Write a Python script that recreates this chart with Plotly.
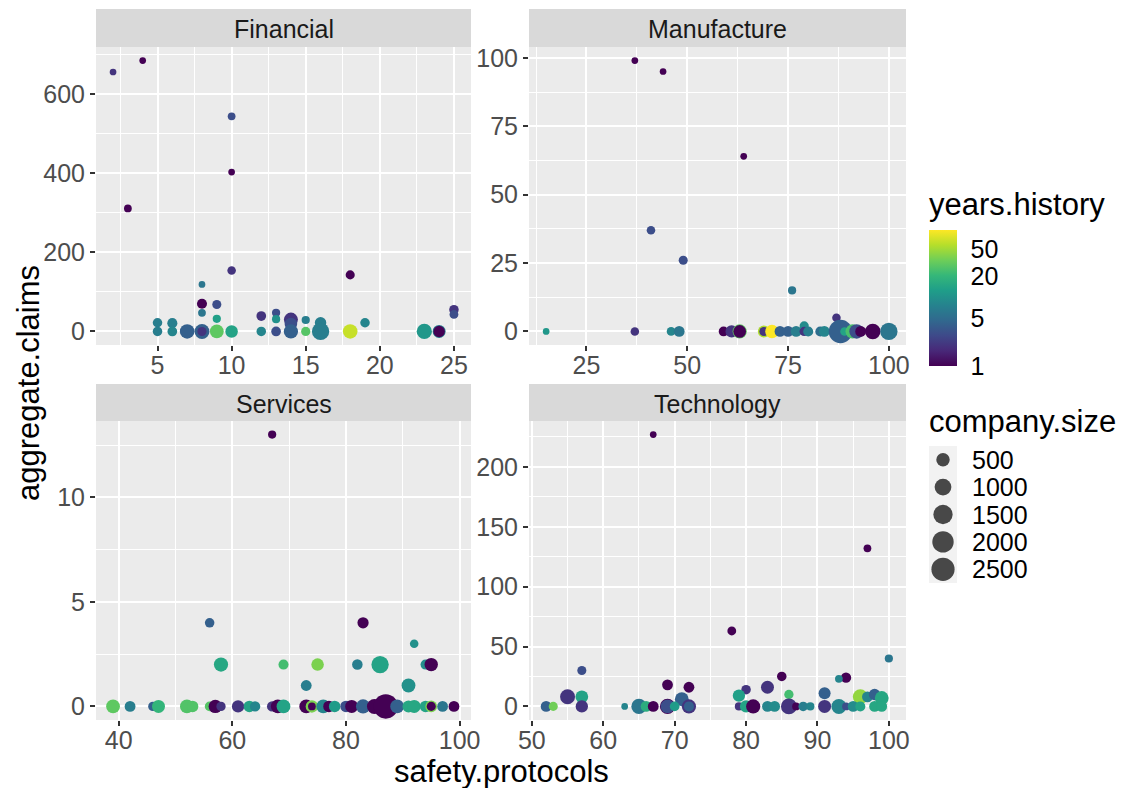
import numpy as np
import plotly.graph_objects as go

W, H = 1138, 788
FONT = "Liberation Sans, Arial, Helvetica, sans-serif"

# ---------------- data ----------------
facet_names = ["Financial", "Manufacture", "Services", "Technology"]

fin_safety = [2, 4, 3, 10, 10, 10, 8, 18, 8, 9, 8, 9, 12, 13, 13, 14, 14, 15, 16, 19, 25, 25, 5, 6,
              5, 6, 7, 8, 8, 9, 10, 12, 13, 14, 15, 16, 18, 23, 24, 24]
fin_claims = [656, 685, 311, 544, 403, 154, 119, 143, 70, 68, 47, 32, 39, 47, 31, 30, 19, 29, 22, 22, 55, 43, 22, 21,
              0, 0, 0, 0, 0, 0, 0, 0, 0, 0, 0, 0, 0, 0, 0, 0]
fin_years = [2, 1, 1, 3, 1, 2, 6, 1, 1, 3, 6, 13, 2, 3, 10, 2, 3, 7, 7, 8, 2, 3, 7, 7,
             7, 8, 4, 4, 2, 30, 14, 8, 3, 4, 28, 7, 65, 11, 7, 1]
fin_size = [100, 100, 110, 110, 100, 130, 100, 150, 200, 150, 110, 120, 180, 120, 120, 570, 400, 120, 300, 170, 170, 140, 170, 200,
            170, 180, 650, 700, 150, 550, 400, 170, 180, 600, 160, 1100, 650, 750, 450, 300]

man_safety = [37, 44, 64, 41, 49, 76, 87, 79,
              15, 37, 46, 48, 59, 61, 63, 63, 69, 69, 71, 73, 75, 77, 79, 80, 83, 84, 88, 89, 91, 92, 93, 96, 100]
man_claims = [99, 95, 64, 37, 26, 15, 5, 2,
              0, 0, 0, 0, 0, 0, 0, 0, 0, 0, 0, 0, 0, 0, 0, 0, 0, 0, 0, 0, 0, 0, 0, 0, 0]
man_years = [1, 1, 1, 3, 3, 6, 2, 9,
             11, 2, 8, 6, 1, 2, 30, 1, 55, 2, 95, 4, 4, 7, 2, 7, 5, 8, 4, 14, 25, 3, 1, 1, 6]
man_size = [100, 100, 100, 130, 150, 120, 130, 160,
            100, 130, 140, 250, 180, 380, 600, 420, 350, 150, 500, 250, 250, 250, 160, 200, 200, 250, 2600, 130, 600, 650, 250, 800, 1100]

ser_safety = [67, 56, 83, 92, 58, 69, 75, 82, 86, 94, 95, 73, 91,
              39, 42, 46, 47, 52, 53, 56, 57, 58, 61, 63, 64, 67, 68, 69, 73, 74, 74, 76, 77, 78, 80, 81, 83, 85, 87, 89, 91, 92, 94, 95, 95, 97, 99]
ser_claims = [13, 4, 4, 3, 2, 2, 2, 2, 2, 2, 2, 1, 1,
              0, 0, 0, 0, 0, 0, 0, 0, 0, 0, 0, 0, 0, 0, 0, 0, 0, 0, 0, 0, 0, 0, 0, 0, 0, 0, 0, 0, 0, 0, 0, 0, 0, 0]
ser_years = [1, 4, 1, 10, 15, 24, 38, 7, 14, 9, 1, 7, 10,
             30, 7, 4, 20, 27, 27, 28, 1, 2, 2, 14, 8, 2, 1, 14, 1, 38, 1, 8, 1, 12, 3, 1, 4, 1, 1, 4, 15, 15, 14, 38, 1, 6, 1]
ser_size = [120, 170, 280, 130, 600, 200, 400, 230, 1100, 200, 500, 250, 550,
            550, 250, 160, 450, 550, 300, 180, 500, 160, 380, 300, 220, 220, 550, 550, 550, 400, 110, 550, 300, 300, 300, 450, 600, 700, 2900, 550, 350, 450, 300, 330, 150, 250, 250]

tec_safety = [67, 97, 78, 100, 57, 69, 72, 85, 94, 93, 83, 80, 79, 86, 91, 55, 57, 71, 96, 97, 98, 99,
              52, 53, 57, 63, 65, 66, 67, 69, 69, 70, 72, 72, 79, 80, 81, 83, 84, 86, 87, 88, 89, 91, 93, 94, 95, 96, 98, 99]
tec_claims = [227, 132, 63, 40, 30, 18, 16, 25, 24, 23, 16, 14, 9, 10, 11, 8, 8, 6, 8, 8, 10, 7,
              0, 0, 0, 0, 0, 0, 0, 0, 0, 0, 0, 0, 0, 0, 0, 0, 0, 0, 0, 0, 0, 0, 0, 0, 0, 0, 0, 0]
tec_years = [1, 1, 1, 6, 3, 1, 1, 1, 1, 8, 2, 2, 13, 24, 4, 2, 14, 4, 45, 8, 4, 15,
             4, 35, 2, 8, 6, 17, 1, 1, 3, 12, 2, 4, 2, 14, 1, 8, 9, 2, 1, 7, 8, 2, 8, 3, 9, 14, 15, 15]
tec_size = [100, 110, 140, 120, 150, 250, 250, 170, 220, 110, 450, 170, 380, 160, 350, 700, 420, 550, 700, 250, 300, 550,
            250, 150, 380, 100, 750, 250, 250, 750, 550, 180, 600, 200, 120, 380, 600, 250, 250, 850, 110, 170, 120, 450, 700, 110, 250, 200, 250, 250]

x_dticks = [5, 25, 20, 10]
y_dticks = [200, 25, 5, 50]

color_breaks = [1, 5, 20, 50]
size_breaks = [500, 1000, 1500, 2000, 2500]

safety = [fin_safety, man_safety, ser_safety, tec_safety]
claims = [fin_claims, man_claims, ser_claims, tec_claims]
years = [fin_years, man_years, ser_years, tec_years]
sizes = [fin_size, man_size, ser_size, tec_size]

# ---------------- scales ----------------
all_sizes = np.concatenate([np.asarray(s, float) for s in sizes])
smin, smax = all_sizes.min(), all_sizes.max()


def size_px(v):
    v = np.asarray(v, float)
    mm = 1 + 5 * np.sqrt(np.clip((v - smin) / (smax - smin), 0, 1))
    return 3.14 + 3.56 * mm


all_years = np.concatenate([np.asarray(y, float) for y in years])
cmin_l = np.log10(all_years.min())
cmax_l = np.log10(all_years.max())


def expand(vals):
    lo, hi = min(vals), max(vals)
    d = (hi - lo) * 0.05
    return [lo - d, hi + d]


# panel geometry (pixels)
cols = [(96, 471), (529, 906)]
rows = [((9, 47), (47, 345)), ((384, 421), (421, 720))]


def px_x(p):
    return p / W


def px_y(p):
    return 1 - p / H


fig = go.Figure()
layout = dict(
    width=W, height=H,
    margin=dict(l=0, r=0, t=0, b=0),
    paper_bgcolor="white",
    plot_bgcolor="#EBEBEB",
    showlegend=False,
    font=dict(family=FONT, color="black"),
    shapes=[], annotations=[],
)

for i, name in enumerate(facet_names):
    r, c = divmod(i, 2)
    (sx0, sx1) = cols[c]
    (st, sb), (pt, pb) = rows[r]
    ax = "" if i == 0 else str(i + 1)
    fig.add_trace(go.Scatter(
        x=safety[i], y=claims[i], mode="markers",
        xaxis="x" + ax, yaxis="y" + ax,
        marker=dict(size=size_px(sizes[i]), color=np.log10(np.asarray(years[i], float)),
                    coloraxis="coloraxis", line=dict(width=0), opacity=1),
        hoverinfo="skip",
    ))
    common = dict(
        showgrid=True, gridcolor="white", gridwidth=2.1, zeroline=False, showline=False,
        ticks="outside", ticklen=5, tickwidth=1.6, tickcolor="#333333",
        tickfont=dict(size=25, color="#4D4D4D", family=FONT),
        tickmode="linear", tick0=0, automargin=False, fixedrange=True,
    )
    layout["xaxis" + ax] = dict(
        common, domain=[px_x(sx0), px_x(sx1)], anchor="y" + ax,
        range=expand(safety[i]), dtick=x_dticks[i], ticklabelstandoff=-7,
        minor=dict(dtick=x_dticks[i] / 2, tick0=0, showgrid=True, gridcolor="white", gridwidth=1, ticks=""),
    )
    layout["yaxis" + ax] = dict(
        common, domain=[px_y(pb), px_y(pt)], anchor="x" + ax,
        range=expand(claims[i]), dtick=y_dticks[i],
        minor=dict(dtick=y_dticks[i] / 2, tick0=0, showgrid=True, gridcolor="white", gridwidth=1, ticks=""),
    )
    layout["shapes"].append(dict(type="rect", xref="paper", yref="paper",
                                 x0=px_x(sx0), x1=px_x(sx1), y0=px_y(sb), y1=px_y(st),
                                 fillcolor="#D9D9D9", line=dict(width=0), layer="below"))
    layout["annotations"].append(dict(text=name, xref="paper", yref="paper",
                                      x=px_x((sx0 + sx1) / 2), y=px_y((st + sb) / 2 + 1),
                                      xanchor="center", yanchor="middle", showarrow=False,
                                      font=dict(size=25, color="#1A1A1A", family=FONT)))

# axis titles
layout["annotations"].append(dict(text="safety.protocols", xref="paper", yref="paper",
                                  x=px_x(501), y=px_y(771), xanchor="center", yanchor="middle",
                                  showarrow=False, font=dict(size=31, color="black", family=FONT)))
layout["annotations"].append(dict(text="aggregate.claims", xref="paper", yref="paper",
                                  x=px_x(28), y=px_y(383), xanchor="center", yanchor="middle",
                                  textangle=-90, showarrow=False, font=dict(size=31, color="black", family=FONT)))

# colour bar
cb_x0, cb_x1, cb_top, cb_bot = 929, 957, 230, 366
layout["coloraxis"] = dict(
    colorscale="Viridis", cmin=cmin_l, cmax=cmax_l,
    colorbar=dict(
        x=px_x(cb_x0), xanchor="left", xpad=0,
        y=px_y(cb_bot), yanchor="bottom", ypad=0,
        len=(cb_bot - cb_top) / H, lenmode="fraction",
        thickness=cb_x1 - cb_x0, thicknessmode="pixels",
        outlinewidth=0,
        tickmode="array", tickvals=np.log10(color_breaks), ticktext=[str(v) for v in color_breaks],
        ticks="outside", ticklen=9, tickcolor="rgba(0,0,0,0)",
        tickfont=dict(size=25, color="black", family=FONT),
    ),
)
for v in color_breaks:
    yy = cb_bot - (np.log10(v) - cmin_l) / (cmax_l - cmin_l) * (cb_bot - cb_top)
    for (a, b) in [(cb_x0, cb_x0 + 5.6), (cb_x1 - 5.6, cb_x1)]:
        layout["shapes"].append(dict(type="line", xref="paper", yref="paper",
                                     x0=px_x(a), x1=px_x(b), y0=px_y(yy), y1=px_y(yy),
                                     line=dict(color="white", width=1), layer="above"))
layout["annotations"].append(dict(text="years.history", xref="paper", yref="paper",
                                  x=px_x(927), y=px_y(204), xanchor="left", yanchor="middle",
                                  showarrow=False, font=dict(size=31, color="black", family=FONT)))

# size legend
key_top, key_bot = 446, 583
layout["annotations"].append(dict(text="company.size", xref="paper", yref="paper",
                                  x=px_x(927), y=px_y(421), xanchor="left", yanchor="middle",
                                  showarrow=False, font=dict(size=31, color="black", family=FONT)))
layout["shapes"].append(dict(type="rect", xref="paper", yref="paper",
                             x0=px_x(cb_x0), x1=px_x(cb_x1), y0=px_y(key_bot), y1=px_y(key_top),
                             fillcolor="#F2F2F2", line=dict(width=0), layer="below"))
n = len(size_breaks)
fig.add_trace(go.Scatter(
    x=[0.5] * n, y=[k + 0.5 for k in range(n)], mode="markers",
    xaxis="x5", yaxis="y5",
    marker=dict(size=size_px(size_breaks), color="black", line=dict(width=0)),
    hoverinfo="skip",
))
layout["xaxis5"] = dict(domain=[px_x(cb_x0), px_x(cb_x1)], range=[0, 1], visible=False,
                        anchor="y5", fixedrange=True)
layout["yaxis5"] = dict(domain=[px_y(key_bot), px_y(key_top)], range=[n, 0], visible=False,
                        anchor="x5", fixedrange=True)
for k, v in enumerate(size_breaks):
    layout["annotations"].append(dict(text=str(v), xref="paper", yref="y5",
                                      x=px_x(970), y=k + 0.5, xanchor="left", yanchor="middle",
                                      showarrow=False, font=dict(size=25, color="black", family=FONT)))

fig.update_layout(**layout)
fig.write_html("out.html", config={"displayModeBar": False},
               post_script="document.body.style.margin='0';document.body.style.overflow='hidden';")
